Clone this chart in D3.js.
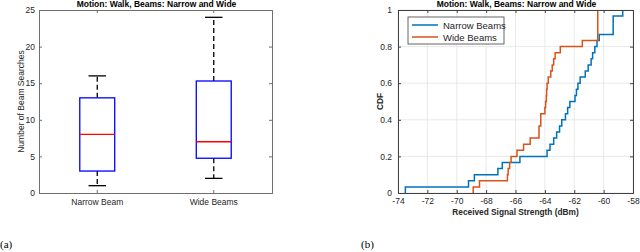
<!DOCTYPE html>
<html>
<head>
<meta charset="utf-8">
<script src="https://cdn.jsdelivr.net/npm/d3@7"></script>
<style>
  body { margin: 0; background: #fff; }
  svg { display: block; font-family: "Liberation Sans", Arial, sans-serif; }
</style>
</head>
<body>
<svg id="chart" width="640" height="252"></svg>
<script>
// Данные: ящики (a)
const boxCategories = ["Narrow Beam", "Wide Beams"];
const boxMin = [1, 2];
const boxQ1 = [3, 4.75];
const boxMedian = [8, 7];
const boxQ3 = [13, 15.3];
const boxMax = [16, 24];
const boxTicks = [0, 5, 10, 15, 20, 25];

// Данные: CDF (b), отсортированные значения RSS
const narrowRss = [-73.5, -69.2, -68.8, -67.2, -66.9, -65.7, -63.85, -63.65, -63.4, -63.2,
  -63.0, -62.85, -62.6, -62.45, -62.3, -61.95, -61.85, -61.75, -61.6, -61.25,
  -61.05, -60.85, -60.75, -60.6, -60.45, -60.3, -59.35, -59.35, -59.35, -58.7];
const wideRss = [-68.88, -68.45, -66.55, -66.5, -66.4, -66.3, -65.9, -65.45, -65.0, -64.4,
  -64.4, -64.28, -64.28, -64.0, -63.95, -63.9, -63.88, -63.85, -63.77, -63.6,
  -63.5, -63.4, -63.3, -62.95, -61.45, -60.4, -60.4, -60.4, -60.4, -60.4];
const cdfSeries = ["Narrow Beams", "Wide Beams"];
const cdfXTicks = [-74, -72, -70, -68, -66, -64, -62, -60, -58];
const cdfYTicks = [0, 0.2, 0.4, 0.6, 0.8, 1];

const svg = d3.select("#chart");
const txt = "#262626";

// ---------- (a) boxplot ----------
const L = { left: 39, right: 272, top: 10, bottom: 193 };
const xL = d3.scaleBand().domain(boxCategories).range([L.left, L.right]);
const yL = d3.scaleLinear().domain([0, 25]).range([L.bottom, L.top]);

const gA = svg.append("g");

gA.append("text")
  .attr("x", (L.left + L.right) / 2 + 1).attr("y", 7)
  .attr("text-anchor", "middle").attr("font-size", 8.5).attr("font-weight", "bold")
  .attr("fill", "#000")
  .text("Motion: Walk, Beams: Narrow and Wide");

// оси
const axL = gA.append("g").attr("transform", `translate(${L.left},0)`)
  .call(d3.axisLeft(yL).tickValues(boxTicks).tickSize(-3).tickPadding(4));
const axB = gA.append("g").attr("transform", `translate(0,${L.bottom})`)
  .call(d3.axisBottom(xL).tickSize(-3).tickPadding(6));
const axR = gA.append("g").attr("transform", `translate(${L.right},0)`)
  .call(d3.axisRight(yL).tickValues(boxTicks).tickSize(-3).tickFormat(""));
const axT = gA.append("g").attr("transform", `translate(0,${L.top})`)
  .call(d3.axisTop(xL).tickSize(-3).tickFormat(""));
[axL, axB, axR, axT].forEach(a => {
  a.select(".domain").attr("stroke", "#6e6e6e");
  a.selectAll(".tick line").attr("stroke", "#6e6e6e");
  a.selectAll("text").attr("fill", txt).attr("font-size", 8.5)
    .attr("font-family", "Liberation Sans, Arial, sans-serif");
});

gA.append("text")
  .attr("transform", `translate(24,${(L.top + L.bottom) / 2}) rotate(-90)`)
  .attr("text-anchor", "middle").attr("font-size", 8.5).attr("fill", txt)
  .text("Number of Beam Searches");

const boxW = xL.bandwidth() * 0.3;
boxCategories.forEach((c, i) => {
  const cx = xL(c) + xL.bandwidth() / 2;
  // усы
  gA.append("line").attr("x1", cx).attr("x2", cx)
    .attr("y1", yL(boxQ3[i])).attr("y2", yL(boxMax[i]))
    .attr("stroke", "#000").attr("stroke-width", 1.3).attr("stroke-dasharray", "5,3");
  gA.append("line").attr("x1", cx).attr("x2", cx)
    .attr("y1", yL(boxQ1[i])).attr("y2", yL(boxMin[i]))
    .attr("stroke", "#000").attr("stroke-width", 1.3).attr("stroke-dasharray", "5,3");
  [boxMax[i], boxMin[i]].forEach(v => {
    gA.append("line").attr("x1", cx - boxW / 4).attr("x2", cx + boxW / 4)
      .attr("y1", yL(v)).attr("y2", yL(v))
      .attr("stroke", "#000").attr("stroke-width", 1.3);
  });
  // ящик
  gA.append("rect")
    .attr("x", cx - boxW / 2).attr("width", boxW)
    .attr("y", yL(boxQ3[i])).attr("height", yL(boxQ1[i]) - yL(boxQ3[i]))
    .attr("fill", "none").attr("stroke", "#0000ff").attr("stroke-width", 1.3);
  gA.append("line").attr("x1", cx - boxW / 2).attr("x2", cx + boxW / 2)
    .attr("y1", yL(boxMedian[i])).attr("y2", yL(boxMedian[i]))
    .attr("stroke", "#ff0000").attr("stroke-width", 1.3);
});

// ---------- (b) CDF ----------
const R = { left: 398, right: 633, top: 10, bottom: 193 };
const xR = d3.scaleLinear().domain([-74, -58]).range([R.left, R.right]);
const yR = d3.scaleLinear().domain([0, 1]).range([R.bottom, R.top]);

const gB = svg.append("g");

// сетка
gB.selectAll(".gx").data(cdfXTicks).enter().append("line")
  .attr("x1", d => xR(d)).attr("x2", d => xR(d))
  .attr("y1", R.top).attr("y2", R.bottom)
  .attr("stroke", "#e3e3e3").attr("stroke-width", 0.8);
gB.selectAll(".gy").data(cdfYTicks).enter().append("line")
  .attr("x1", R.left).attr("x2", R.right)
  .attr("y1", d => yR(d)).attr("y2", d => yR(d))
  .attr("stroke", "#e3e3e3").attr("stroke-width", 0.8);

gB.append("text")
  .attr("x", (R.left + R.right) / 2 + 1).attr("y", 7)
  .attr("text-anchor", "middle").attr("font-size", 8.5).attr("font-weight", "bold")
  .attr("fill", "#000")
  .text("Motion: Walk, Beams: Narrow and Wide");

const colors = ["#0072BD", "#D95319"];
const line = d3.line().x(d => xR(d[0])).y(d => yR(d[1])).curve(d3.curveStepAfter);
[narrowRss, wideRss].forEach((vals, k) => {
  const n = vals.length;
  const pts = [[vals[0], 0]].concat(vals.map((v, i) => [v, (i + 1) / n]));
  gB.append("path").datum(pts)
    .attr("d", line).attr("fill", "none")
    .attr("stroke", colors[k]).attr("stroke-width", 1.5);
});

const bxL = gB.append("g").attr("transform", `translate(${R.left},0)`)
  .call(d3.axisLeft(yR).tickValues(cdfYTicks).tickFormat(d3.format("~g")).tickSize(-3).tickPadding(6));
const bxB = gB.append("g").attr("transform", `translate(0,${R.bottom})`)
  .call(d3.axisBottom(xR).tickValues(cdfXTicks).tickFormat(d3.format("~g")).tickSize(-3).tickPadding(5));
const bxR = gB.append("g").attr("transform", `translate(${R.right},0)`)
  .call(d3.axisRight(yR).tickValues(cdfYTicks).tickSize(-3).tickFormat(""));
const bxT = gB.append("g").attr("transform", `translate(0,${R.top})`)
  .call(d3.axisTop(xR).tickValues(cdfXTicks).tickSize(-3).tickFormat(""));
[bxL, bxB, bxR, bxT].forEach(a => {
  a.select(".domain").attr("stroke", "#404040");
  a.selectAll(".tick line").attr("stroke", "#404040");
  a.selectAll("text").attr("fill", txt).attr("font-size", 8.5)
    .attr("font-family", "Liberation Sans, Arial, sans-serif");
});
bxB.selectAll("text").text(d => d3.format("~g")(d).replace("−", "-"));

gB.append("text")
  .attr("x", (R.left + R.right) / 2).attr("y", 215)
  .attr("text-anchor", "middle").attr("font-size", 8.3).attr("font-weight", "bold")
  .attr("fill", txt).text("Received Signal Strength (dBm)");
gB.append("text")
  .attr("transform", `translate(383,${(R.top + R.bottom) / 2}) rotate(-90)`)
  .attr("text-anchor", "middle").attr("font-size", 8.3).attr("font-weight", "bold")
  .attr("fill", txt).text("CDF");

// легенда
const leg = gB.append("g").attr("transform", "translate(408,17)");
leg.append("rect").attr("width", 96).attr("height", 27)
  .attr("fill", "#fff").attr("stroke", "#404040").attr("stroke-width", 0.8);
cdfSeries.forEach((s, k) => {
  const y = 8 + k * 12;
  leg.append("line").attr("x1", 4).attr("x2", 30).attr("y1", y).attr("y2", y)
    .attr("stroke", colors[k]).attr("stroke-width", 1.5);
  leg.append("text").attr("x", 35).attr("y", y + 3.5)
    .attr("font-size", 9.5).attr("fill", txt).text(s);
});

// подписи (a), (b)
svg.append("text").attr("x", 0).attr("y", 248)
  .attr("font-family", "Liberation Serif, Times New Roman, serif")
  .attr("font-size", 11).attr("fill", "#000").text("(a)");
svg.append("text").attr("x", 361).attr("y", 248)
  .attr("font-family", "Liberation Serif, Times New Roman, serif")
  .attr("font-size", 11).attr("fill", "#000").text("(b)");
</script>
</body>
</html>
